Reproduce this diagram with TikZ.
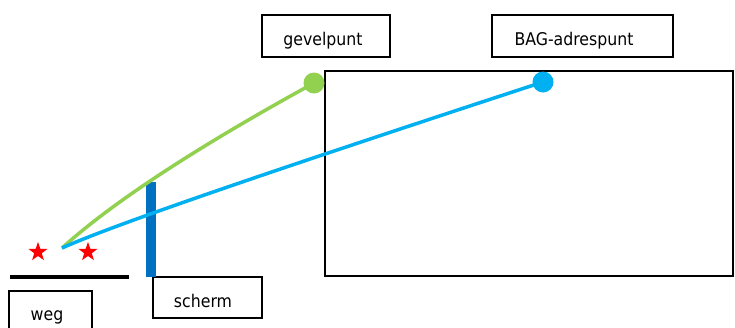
\documentclass[tikz,border=0pt]{standalone}
\usepackage{fontspec}
\setmainfont{DejaVu Sans}[FakeStretch=0.9]
\usetikzlibrary{shapes.geometric}
\definecolor{gvgreen}{RGB}{146,208,80}
\definecolor{bagblue}{RGB}{0,176,240}
\definecolor{screenblue}{RGB}{0,112,192}
\tikzset{
  box/.style={draw=black, line width=1.5pt, inner sep=0pt},
  lbl/.style={inner sep=0pt, font=\fontsize{17.5}{20}\selectfont, anchor=base},
  ray/.style={line width=3.5pt},
  dotg/.style={circle, fill=gvgreen, minimum size=21pt, inner sep=0pt},
  dotb/.style={circle, fill=bagblue, minimum size=21pt, inner sep=0pt},
  redstar/.style={star, star points=5, star point ratio=2.5, fill=red, minimum size=20pt, inner sep=0pt},
}
\begin{document}
\begin{tikzpicture}[x=1pt, y=-1pt]
\clip (0,0) rectangle (735,327);
\fill[white] (0,0) rectangle (735,327);
% building
\node[box, minimum width=408pt, minimum height=205pt] (bld) at (529,173.5) {};
% label boxes
\node[box, minimum width=128pt, minimum height=42pt] (gbox) at (326,36) {};
\node[lbl] (gtxt) at (323,45) {gevelpunt};
\node[box, minimum width=181pt, minimum height=42pt] (bbox) at (582.5,36) {};
\node[lbl] (btxt) at (574,45) {BAG-adrespunt};
\node[box, minimum width=109pt, minimum height=41pt] (sbox) at (207.5,297.5) {};
\node[lbl] (stxt) at (203,307) {scherm};
\node[box, minimum width=83pt, minimum height=46pt] (wbox) at (50.5,314) {};
\node[lbl] (wtxt) at (47,320) {weg};
% road
\coordinate (rl) at (10,277);
\coordinate (rr) at (129,277);
\draw[line width=3.5pt] (rl) -- (rr);
% screen
\coordinate (st) at (151,182);
\coordinate (sb) at (151,277);
\draw[screenblue, line width=10pt] (st) -- (sb);
% source and targets
\coordinate (src) at (62,248);
\coordinate (gpc) at (314,83);
\coordinate (bpc) at (543,82);
\draw[gvgreen, ray] (src) .. controls (112,202.7) and (196,147.7) .. (gpc);
\draw[bagblue, ray] (src) .. controls (113,225) and (274,170) .. (bpc);
\node[dotg] (gp) at (gpc) {};
\node[dotb] (bp) at (bpc) {};
% stars
\node[redstar] (s1) at (38,252) {};
\node[redstar] (s2) at (88,252) {};
\end{tikzpicture}
\end{document}
